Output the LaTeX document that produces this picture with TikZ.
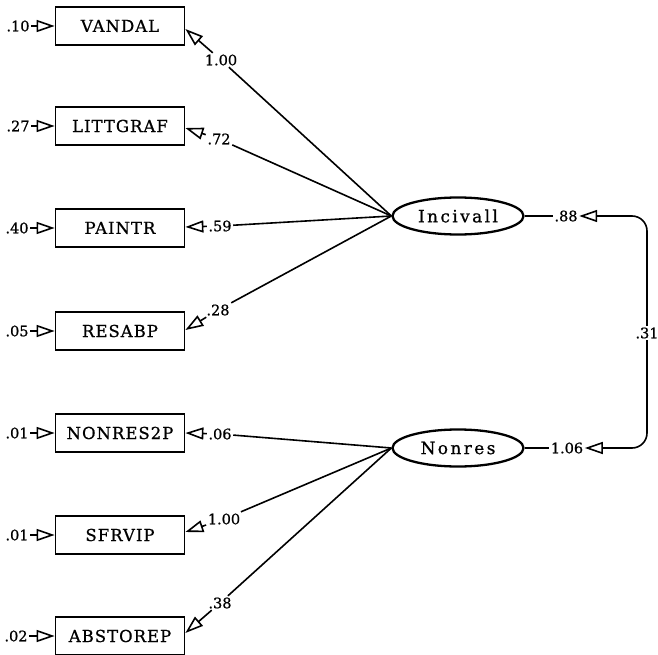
\documentclass[tikz,border=0pt]{standalone}
\usepackage{fontspec}
\setmainfont[FakeBold=0.8]{DejaVu Serif}
\usetikzlibrary{arrows.meta,calc,shapes.geometric}
\begin{document}
\begin{tikzpicture}[x=1pt,y=-1pt,
  obs/.style={draw, line width=1.8pt, minimum width=129pt, minimum height=38pt, inner sep=0pt,
    font=\fontsize{16.5}{18}\selectfont\addfontfeatures{LetterSpace=6}},
  lat/.style={draw, ellipse, line width=2.3pt, minimum width=131pt, minimum height=37pt, inner sep=0pt,
    font=\fontsize{17}{19}\selectfont\addfontfeatures{LetterSpace=14}},
  lab/.style={font=\fontsize{14.5}{16}\selectfont, inner sep=1.5pt},
  ln/.style={line width=1.6pt},
  tip/.style={line width=1.6pt, -{Triangle[open,length=18pt,width=12pt,line width=1.6pt]}},
  revtip/.style={line width=1.6pt, {Triangle[open,length=18pt,width=12pt,line width=1.6pt]}-},
]
\useasboundingbox (0,0) rectangle (658,655);

% observed variables
\node[obs] (vandal) at (120,26) {VANDAL};
\node[obs] (littgraf) at (120,126) {LITTGRAF};
\node[obs] (paintr) at (120,228) {PAINTR};
\node[obs] (resabp) at (120,331) {RESABP};
\node[obs] (nonres2p) at (120,433) {NONRES2P};
\node[obs] (sfrvip) at (120,535) {SFRVIP};
\node[obs] (abstorep) at (120,636) {ABSTOREP};

% latent variables
\node[lat] (inc) at (458,216) {Incivall};
\node[lat] (non) at (458,448) {Nonres};

% error terms
\node[lab] (e1) at (18,26) {.10};
\node[lab] (e2) at (18,126) {.27};
\node[lab] (e3) at (17,228) {.40};
\node[lab] (e4) at (17,331) {.05};
\node[lab] (e5) at (17,433) {.01};
\node[lab] (e6) at (17,535) {.01};
\node[lab] (e7) at (16,636) {.02};
\foreach \e/\b in {e1/vandal,e2/littgraf,e3/paintr,e4/resabp,e5/nonres2p,e6/sfrvip,e7/abstorep}
  \draw[tip] (\e) -- (\b);

% loading labels
\node[lab] (l1) at (221,60) {1.00};
\node[lab] (l2) at (219,139) {.72};
\node[lab] (l3) at (220,226) {.59};
\node[lab] (l4) at (218,310) {.28};
\node[lab] (l5) at (220,434) {.06};
\node[lab] (l6) at (224,519) {1.00};
\node[lab] (l7) at (220,603) {.38};

\draw[ln] (inc.west) -- (l1);
\draw[ln] (inc.west) -- (l2);
\draw[ln] (inc.west) -- (l3);
\draw[ln] (inc.west) -- (l4);
\draw[ln] (non.west) -- (l5);
\draw[ln] (non.west) -- (l6);
\draw[ln] (non.west) -- (l7);

\draw[tip] (l1) -- ($(vandal.east)+(0,3)$);
\draw[tip] (l2) -- ($(littgraf.east)+(0,2)$);
\draw[tip] (l3) -- ($(paintr.east)+(0,-1)$);
\draw[tip] (l4) -- ($(resabp.east)+(0,-1)$);
\draw[tip] (l5) -- (nonres2p.east);
\draw[tip] (l6) -- ($(sfrvip.east)+(0,-3)$);
\draw[tip] (l7) -- ($(abstorep.east)+(0,-3)$);

% variances and covariance
\node[lab] (v88) at (566,216) {.88};
\node[lab] (v106) at (567,448) {1.06};
\node[lab, fill=white] (l31) at (647,333) {.31};
\draw[ln] (inc.east) -- (v88);
\draw[ln] (non.east) -- (v106);
\draw[revtip, rounded corners=15pt] (v88.east) -| (l31);
\draw[revtip, rounded corners=15pt] (v106.east) -| (l31);
\end{tikzpicture}
\end{document}
